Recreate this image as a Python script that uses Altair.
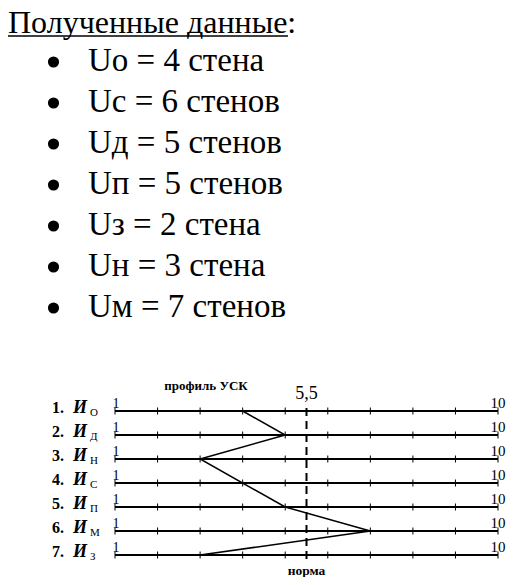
import altair as alt
import pandas as pd

# ---- data ----
title_text = "Полученные данные:"
var_names = ["Uo", "Uc", "Uд", "Uп", "Uз", "Uн", "Uм"]
wall_counts = [4, 6, 5, 5, 2, 3, 7]
wall_words = ["стена", "стенов", "стенов", "стенов", "стена", "стена", "стенов"]

row_numbers = [1, 2, 3, 4, 5, 6, 7]
row_subs = ["О", "Д", "Н", "С", "П", "М", "З"]
profile_rows = [1, 2, 3, 5, 6, 7]
profile_vals = [4, 5, 3, 5, 7, 3]
scale_ticks = [1, 2, 3, 4, 5, 6, 7, 8, 9, 10]
scale_min_label = "1"
scale_max_label = "10"
norm_value = 5.5
norm_label = "5,5"
profile_title = "профиль УСК"
norm_title = "норма"

SERIF = "Liberation Serif"
W, H = 508, 569

bullets = pd.DataFrame({
    "i": list(range(len(var_names))),
    "label": [f"{n} = {c} {w}" for n, c, w in zip(var_names, wall_counts, wall_words)],
})
rows = pd.DataFrame({
    "row": row_numbers,
    "num": [f"{n}." for n in row_numbers],
    "letter": ["И"] * len(row_numbers),
    "sub": row_subs,
    "lo": [scale_ticks[0]] * len(row_numbers),
    "hi": [scale_ticks[-1]] * len(row_numbers),
    "lo_lab": [scale_min_label] * len(row_numbers),
    "hi_lab": [scale_max_label] * len(row_numbers),
})
ticks = pd.DataFrame([{"row": r, "v": v} for r in row_numbers for v in scale_ticks])
profile = pd.DataFrame({"row": profile_rows, "v": profile_vals})

xs = alt.Scale(domain=[1, 10], range=[107, 490], nice=False, zero=False)
ys = alt.Scale(domain=[1, 7], range=[403, 547], nice=False, zero=False)
bs = alt.Scale(domain=[0, 6], range=[63, 309], nice=False, zero=False)

X = lambda f: alt.X(f, scale=xs, axis=None)
Y = lambda f: alt.Y(f, scale=ys, axis=None)

# ---- top text ----
title = alt.Chart(pd.DataFrame({"t": [title_text]})).mark_text(
    font=SERIF, fontSize=32, align="left", baseline="alphabetic", color="black"
).encode(text="t:N", x=alt.value(0), y=alt.value(25))
underline = alt.Chart(pd.DataFrame({"t": [title_text]})).mark_rule(
    color="black", strokeWidth=1.5
).encode(x=alt.value(0), x2=alt.value(280), y=alt.value(28))

bullet_dots = alt.Chart(bullets).mark_circle(
    size=125, color="black", opacity=1, yOffset=-9
).encode(x=alt.value(45.5), y=alt.Y("i:Q", scale=bs, axis=None))
bullet_text = alt.Chart(bullets).mark_text(
    font=SERIF, fontSize=33, align="left", baseline="alphabetic", color="black"
).encode(text="label:N", x=alt.value(80), y=alt.Y("i:Q", scale=bs, axis=None))

# ---- profile chart ----
lines = alt.Chart(rows).mark_rule(color="black", strokeWidth=2).encode(
    x=X("lo:Q"), x2="hi:Q", y=Y("row:Q")
)
tick_marks = alt.Chart(ticks).mark_tick(
    orient="vertical", color="black", size=7, thickness=1, opacity=1
).encode(x=X("v:Q"), y=Y("row:Q"))
lo_labels = alt.Chart(rows).mark_text(
    font=SERIF, fontSize=14, align="center", baseline="alphabetic", dy=-3, dx=1,
    color="black"
).encode(text="lo_lab:N", x=X("lo:Q"), y=Y("row:Q"))
hi_labels = alt.Chart(rows).mark_text(
    font=SERIF, fontSize=15, align="center", baseline="alphabetic", dy=-3, color="black"
).encode(text="hi_lab:N", x=X("hi:Q"), y=Y("row:Q"))
num_labels = alt.Chart(rows).mark_text(
    font=SERIF, fontSize=16, fontWeight="bold", align="left", baseline="alphabetic",
    dy=2, color="black"
).encode(text="num:N", x=alt.value(44), y=Y("row:Q"))
letter_labels = alt.Chart(rows).mark_text(
    font=SERIF, fontSize=18, fontWeight="bold", fontStyle="italic", align="left",
    baseline="alphabetic", dy=2, color="black"
).encode(text="letter:N", x=alt.value(65), y=Y("row:Q"))
sub_labels = alt.Chart(rows).mark_text(
    font=SERIF, fontSize=11, align="left", baseline="alphabetic", dy=5, color="black"
).encode(text="sub:N", x=alt.value(82), y=Y("row:Q"))
profile_line = alt.Chart(profile).mark_line(color="black", strokeWidth=1.5).encode(
    x=X("v:Q"), y=Y("row:Q"), order="row:Q"
)
norm = pd.DataFrame({"v": [norm_value], "lab": [norm_label], "nt": [norm_title]})
norm_rule = alt.Chart(norm).mark_rule(
    color="black", strokeWidth=2, strokeDash=[8, 5]
).encode(x=X("v:Q"), y=alt.value(400), y2=alt.value(555))
norm_lab = alt.Chart(norm).mark_text(
    font=SERIF, fontSize=18, align="center", baseline="alphabetic", color="black"
).encode(text="lab:N", x=X("v:Q"), y=alt.value(391))
norm_tit = alt.Chart(norm).mark_text(
    font=SERIF, fontSize=13.5, fontWeight="bold", align="center", baseline="alphabetic",
    color="black"
).encode(text="nt:N", x=X("v:Q"), y=alt.value(567))
prof_tit = alt.Chart(pd.DataFrame({"t": [profile_title]})).mark_text(
    font=SERIF, fontSize=13, fontWeight="bold", align="center", baseline="alphabetic",
    color="black"
).encode(text="t:N", x=alt.value(198), y=alt.value(382))

chart = alt.layer(
    title, underline, bullet_dots, bullet_text,
    lines, tick_marks, profile_line, norm_rule,
    lo_labels, hi_labels, num_labels, letter_labels, sub_labels,
    norm_lab, norm_tit, prof_tit,
).resolve_scale(y="independent").properties(
    width=W, height=H, padding=0, autosize=alt.AutoSizeParams(type="none"),
    background="white",
).configure_view(stroke=None)

chart.save("out.html", embed_options={"renderer": "svg", "actions": False})
